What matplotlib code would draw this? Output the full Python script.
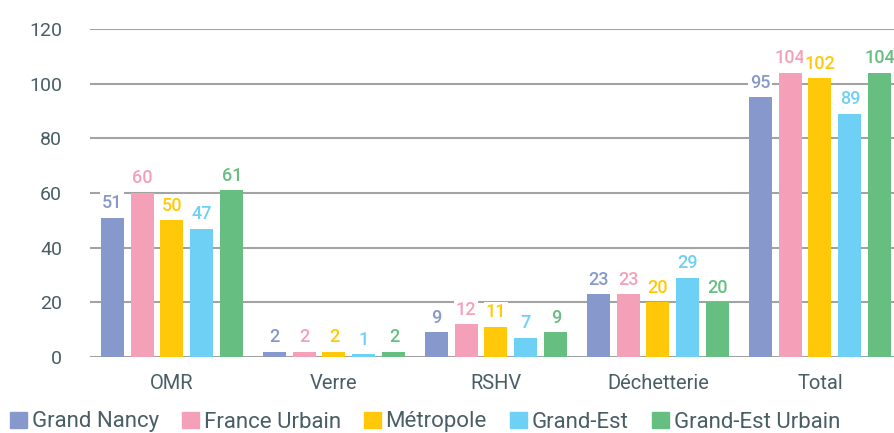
import numpy as np
import matplotlib.pyplot as plt
from matplotlib.patches import Patch

plt.rcParams['font.family'] = ['Roboto', 'DejaVu Sans']

# data
categories = ['OMR', 'Verre', 'RSHV', 'Déchetterie', 'Total']
series = ['Grand Nancy', 'France Urbain', 'Métropole', 'Grand-Est', 'Grand-Est Urbain']
grand_nancy = [51, 2, 9, 23, 95]
france_urbain = [60, 2, 12, 23, 104]
metropole = [50, 2, 11, 20, 102]
grand_est = [47, 1, 7, 29, 89]
grand_est_urbain = [61, 2, 9, 20, 104]
values = [grand_nancy, france_urbain, metropole, grand_est, grand_est_urbain]
colors = ['#8799cc', '#f4a0b8', '#ffc90a', '#6fd0f6', '#66bf80']
text_col = '#4a5e66'

fig = plt.figure(figsize=(8.95, 4.33), dpi=100)
ax = fig.add_axes([90 / 895, 76 / 433, 805 / 895, 328 / 433])

index = np.arange(len(categories))
width = 0.142
step = 0.185

for i, (name, vals, c) in enumerate(zip(series, values, colors)):
    x = index + (i - 2) * step
    ax.bar(x, vals, width, color=c, zorder=2, label=name)
    for xi, v in zip(x, vals):
        ax.annotate(str(v), (xi, v), xytext=(0, 4), textcoords='offset points',
                    ha='center', va='bottom', color=c, fontsize=13,
                    fontweight='medium', zorder=4,
                    bbox=dict(boxstyle='square,pad=0.1', fc='white', ec='none'))

ax.set_xlim(-0.506, 4.463)
ax.set_ylim(0, 120)
ax.set_yticks(range(0, 121, 20))
ax.set_xticks(index)
ax.set_xticklabels(categories)
ax.yaxis.grid(True, color='#a3a3a3', linewidth=1.5, zorder=0)
ax.set_axisbelow(True)
for s in ax.spines.values():
    s.set_visible(False)
ax.tick_params(axis='y', length=0, pad=20, labelsize=14, labelcolor=text_col)
ax.tick_params(axis='x', length=0, pad=12, labelsize=14.5, labelcolor=text_col)

handles = [Patch(color=c) for c in colors]
fig.legend(handles, series, loc='center left', bbox_to_anchor=(10 / 895, 11 / 433),
           ncol=5, frameon=False, fontsize=16, labelcolor=text_col,
           handlelength=0.75, handleheight=0.75, handletextpad=0.22,
           columnspacing=1.05, borderpad=0, borderaxespad=0)

fig.savefig('out.png', dpi=100)
